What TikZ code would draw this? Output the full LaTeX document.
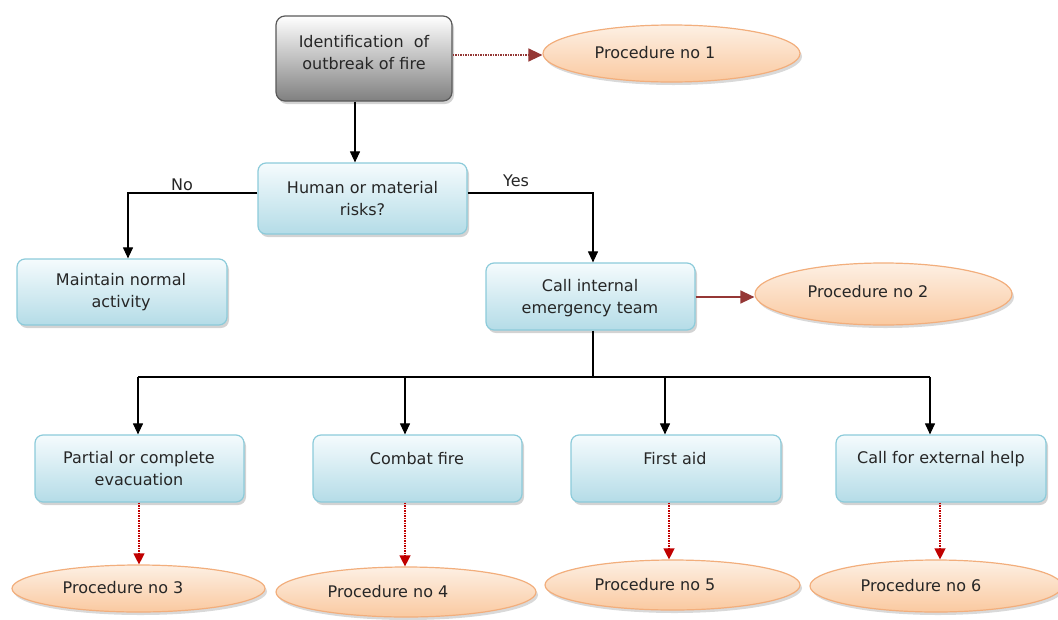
\documentclass[tikz,border=0pt]{standalone}
\usepackage{fontspec}
\setmainfont{DejaVu Sans}
\usetikzlibrary{arrows.meta,shadows,shapes.geometric}
\definecolor{bluetop}{HTML}{F5FBFD}
\definecolor{bluebot}{HTML}{B4DCE7}
\definecolor{blueborder}{HTML}{8CCBDA}
\definecolor{ovtop}{HTML}{FDF0E4}
\definecolor{ovbot}{HTML}{FAC9A0}
\definecolor{ovborder}{HTML}{F2AE7C}
\definecolor{darkred}{HTML}{953735}
\definecolor{brightred}{HTML}{C00000}
\tikzset{
  bluebox/.style={draw=blueborder, line width=1.2pt, rounded corners=8pt, top color=bluetop, bottom color=bluebot,
    drop shadow={shadow xshift=2pt, shadow yshift=-3pt, opacity=0.35}, inner sep=0pt},
  graybox/.style={draw=black!65, line width=1.2pt, rounded corners=9pt, top color=white, bottom color=black!50,
    drop shadow={shadow xshift=2pt, shadow yshift=-3pt, opacity=0.35}, inner sep=0pt},
  oval/.style={ellipse, draw=ovborder, line width=1.2pt, top color=ovtop, bottom color=ovbot,
    drop shadow={shadow xshift=2pt, shadow yshift=-3pt, opacity=0.3}, inner sep=0pt},
  txt/.style={font=\fontsize{16}{22}\selectfont, align=center, inner sep=0pt, text=black!85},
  flow/.style={line width=1.1pt, black, -{Triangle[length=11pt,width=10pt]}},
  redflow/.style={line width=1.3pt, brightred, dash pattern=on 1.5pt off 1pt, -{Triangle[length=11pt,width=11pt]}},
  procflow/.style={line width=1.3pt, darkred, dash pattern=on 1.5pt off 1pt, -{Triangle[length=14pt,width=13pt]}},
  procsolid/.style={line width=1.4pt, darkred, -{Triangle[length=14pt,width=13pt]}},
}
\begin{document}
\begin{tikzpicture}[x=1pt,y=-1pt]
\useasboundingbox (0,0) rectangle (1058,619);
% boxes
\node[graybox, minimum width=176, minimum height=85] (ident) at (364,58.5) {};
\node[txt] (identt) at (364,53) {Identification\ \ of\\outbreak of fire};
\node[bluebox, minimum width=209, minimum height=71] (human) at (362.5,198.5) {};
\node[txt] (humant) at (362.5,199) {Human or material\\risks?};
\node[bluebox, minimum width=210, minimum height=66] (maint) at (122,292) {};
\node[txt] (maintt) at (121,292) {Maintain normal\\activity};
\node[bluebox, minimum width=209, minimum height=67] (call) at (590.5,296.5) {};
\node[txt] (callt) at (590,298) {Call internal\\emergency team};
\node[bluebox, minimum width=209, minimum height=67] (evac) at (139.5,468.5) {};
\node[txt] (evact) at (139,469) {Partial or complete\\evacuation};
\node[bluebox, minimum width=209, minimum height=67] (combat) at (417.5,468.5) {};
\node[txt] (combatt) at (417,459) {Combat fire};
\node[bluebox, minimum width=210, minimum height=67] (aid) at (676,468.5) {};
\node[txt] (aidt) at (675,459) {First aid};
\node[bluebox, minimum width=210, minimum height=67] (ext) at (941,468.5) {};
\node[txt] (extt) at (941,459) {Call for external help};
% ovals
\node[oval, minimum width=257, minimum height=57] (p1) at (671.5,53.5) {};
\node[txt] (p1t) at (655,53) {Procedure no 1};
\node[oval, minimum width=257, minimum height=62] (p2) at (883.5,294) {};
\node[txt] (p2t) at (868,292) {Procedure no 2};
\node[oval, minimum width=253, minimum height=47] (p3) at (138.5,588.5) {};
\node[txt] (p3t) at (123,588) {Procedure no 3};
\node[oval, minimum width=260, minimum height=50] (p4) at (406,592) {};
\node[txt] (p4t) at (388,592) {Procedure no 4};
\node[oval, minimum width=255, minimum height=50] (p5) at (672.5,585) {};
\node[txt] (p5t) at (655,585) {Procedure no 5};
\node[oval, minimum width=252, minimum height=52] (p6) at (936,586) {};
\node[txt] (p6t) at (921,586) {Procedure no 6};
% connectors
\draw[procflow] (ident.east |- 0,55) -- (p1.west |- 0,55);
\draw[flow] (ident.south -| 355,0) -- (human.north -| 355,0);
\coordinate (nocorner) at (128,193);
\coordinate (yescorner) at (593,193);
\draw[flow] (human.west |- nocorner) -- (nocorner) -- (maint.north -| nocorner);
\draw[flow] (human.east |- yescorner) -- (yescorner) -- (call.north -| yescorner);
\node[txt] (no) at (182,185) {No};
\node[txt] (yes) at (516,181) {Yes};
\draw[procsolid] (call.east |- 0,297) -- (p2.west |- 0,297);
\coordinate (split) at (593,377);
\coordinate (bl) at (138,377);
\coordinate (br) at (930,377);
\draw[line width=1.1pt] (call.south -| split) -- (split);
\draw[line width=1.1pt] (bl) -- (br);
\draw[flow] (bl) -- (evac.north -| bl);
\draw[flow] (405,377) -- (combat.north -| 405,0);
\draw[flow] (665,377) -- (aid.north -| 665,0);
\draw[flow] (br) -- (ext.north -| br);
\draw[redflow] (evac.south -| 139,0) -- (p3.north -| 139,0);
\draw[redflow] (combat.south -| 405,0) -- (p4.north -| 405,0);
\draw[redflow] (aid.south -| 669,0) -- (p5.north -| 669,0);
\draw[redflow] (ext.south -| 940,0) -- (p6.north -| 940,0);
\end{tikzpicture}
\end{document}
